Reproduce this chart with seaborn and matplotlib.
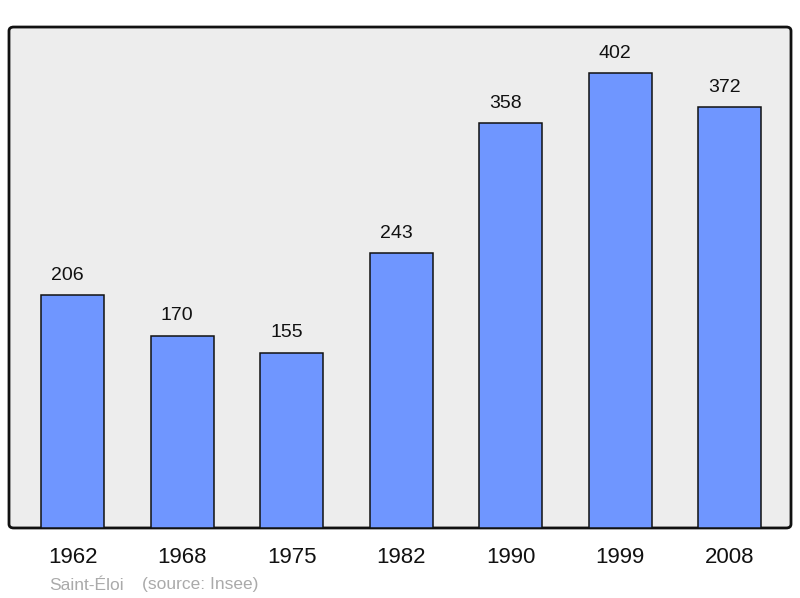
import matplotlib
matplotlib.use("Agg")
import matplotlib.pyplot as plt
import seaborn as sns
import pandas as pd
from matplotlib.patches import FancyBboxPatch

years = ["1962", "1968", "1975", "1982", "1990", "1999", "2008"]
population = [206, 170, 155, 243, 358, 402, 372]
commune = "Saint-Éloi"
source = "(source: Insee)"

df = pd.DataFrame({"year": years, "pop": population})

sns.set_theme(style="white")
plt.rcParams['font.family'] = ['Liberation Sans', 'DejaVu Sans']

fig = plt.figure(figsize=(8, 5.98), dpi=100)
ax = fig.add_axes([0.01125, 0.1171, 0.9775, 0.8377])
ax.set_facecolor("none")

# Rounded background frame
bg = FancyBboxPatch((0, 0), 1, 1, boxstyle="round,pad=0,rounding_size=0.006",
                    transform=ax.transAxes, facecolor="#ededed", edgecolor="#111111",
                    linewidth=2, zorder=0, clip_on=False, mutation_aspect=1.3)
ax.add_patch(bg)

sns.barplot(data=df, x="year", y="pop", color="#6f96ff", saturation=1,
            width=0.575, edgecolor="#111111", linewidth=1.1, ax=ax, zorder=2)

for i, v in enumerate(population):
    ax.annotate(str(v), (i, v), xytext=(-3.6, 8), textcoords="offset points",
                ha="center", va="bottom", fontsize=14, color="#111111")

ax.set_xlim(-0.58, 6.56)
ax.set_ylim(0, 442.6)
ax.set_yticks([])
for s in ax.spines.values():
    s.set_visible(False)
ax.set_xlabel("")
ax.set_ylabel("")
ax.tick_params(axis="x", length=0, labelsize=16, pad=14, colors="#111111")

fig.text(49 / 800, 1 - 585 / 598, commune, fontsize=12.5, color="#aaaaaa", va="center", ha="left")
fig.text(142 / 800, 1 - 585 / 598, source, fontsize=12.5, color="#aaaaaa", va="center", ha="left")

fig.savefig("out.png", dpi=100, facecolor="white")
